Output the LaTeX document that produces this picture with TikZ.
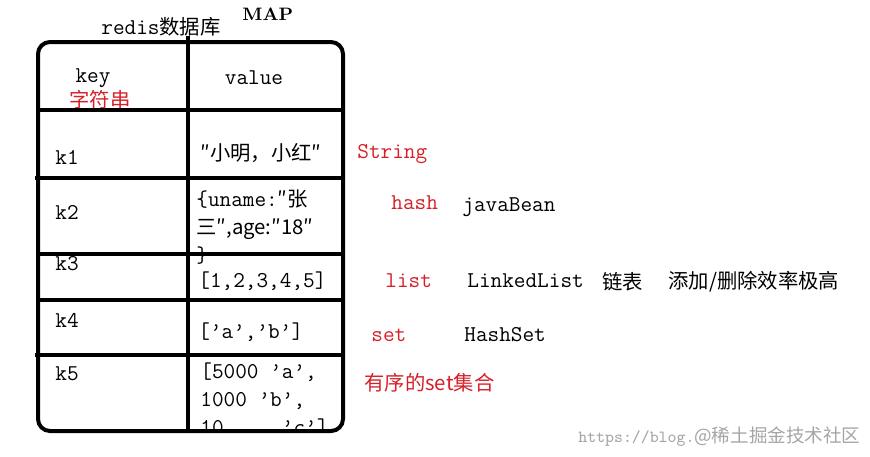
\documentclass[tikz,border=0pt]{standalone}
\usepackage{fontspec}
\newfontfamily\cjk[Scale=0.9]{Noto Sans CJK SC}
\usepackage{tikz}
\usetikzlibrary{positioning}
\usepackage{xcolor}
\definecolor{lblred}{RGB}{214,32,40}
\definecolor{wmgray}{RGB}{165,165,165}
\tikzset{
  txt/.style   ={inner sep=0pt, font=\fontsize{11.3}{14}\selectfont\ttfamily, text=black},
  redtxt/.style={txt, text=lblred},
  cell/.style  ={txt, anchor=west},
  note/.style  ={txt, anchor=west},
  rnote/.style ={redtxt, anchor=west},
  frame/.style ={line width=2pt, black},
  % watermark in the lower right corner
  wmark/.style ={inner sep=0pt, anchor=west, text=wmgray, font=\ttfamily},
}

\begin{document}
\begin{tikzpicture}[x=0.5pt, y=-0.5pt]
  \useasboundingbox (0,0) rectangle (870,456);
  % ---- titles above the table
  \node[txt, anchor=west] (maplbl) at (242,14) {\fontsize{9}{10}\selectfont\rmfamily\bfseries MAP};
  \node[txt] (dbname) at (161,27) {redis\cjk{数据库}};
  % ---- header row
  \node[txt]    (keyh)    at (93,78)  {key};
  \node[redtxt] (keytype) at (100,100) {\cjk{字符串}};
  \node[txt]    (valh)    at (254,78) {value};
  % ---- keys
  \node[cell] (k1) at (55,157) {k1};
  \node[cell] (k2) at (55,212) {k2};
  \node[cell] (k3) at (55,264) {k3};
  \node[cell] (k4) at (55,320) {k4};
  \node[cell] (k5) at (55,374) {k5};
  % ---- values
  \node[cell] (v1) at (200,153) {\cjk{″小明，小红″}};
  \node[txt, anchor=north west, align=left] (v2) at (196,189)
    {\{uname:\cjk{″张}\\\cjk{三″},age:\cjk{″}18\cjk{″}\\\}};
  \node[cell] (v3) at (198,281) {[1,2,3,4,5]};
  \node[cell] (v4) at (198,332) {[’a’,’b’]};
  \begin{scope}
    \clip (190,357) rectangle (341,429);
    \node[txt, anchor=north west, align=left] (v5) at (200,362)
      {[5000 ’a’,\\1000 ’b’,\\10\ \ \ \ \ ’c’]};
  \end{scope}
  % ---- table frame
  \draw[frame, rounded corners=6pt] (38,42) rectangle (343,431);
  \draw[frame] (188,36) -- (188,431);
  \draw[frame] (38,110) -- (343,110);
  \draw[frame] (35,178) -- (343,178);
  \draw[frame] (38,254) -- (343,254);
  \draw[frame] (38,300) -- (343,300);
  \draw[frame] (35,355) -- (345,355);
  % ---- types and notes on the right
  \node[rnote] (tstr)  at (357,154) {String};
  \node[rnote] (thash) at (391,203) {hash};
  \node[note]  (jbean) at (462,207) {javaBean};
  \node[rnote] (tlist) at (385,281) {list};
  \node[note]  (llist) at (467,281) {LinkedList};
  \node[note]  (lnk)   at (602,282) {\cjk{链表}};
  \node[note]  (fast)  at (668,282) {\cjk{添加}/\cjk{删除效率极高}};
  \node[rnote] (tset)  at (371,335) {set};
  \node[note]  (hset)  at (464,335) {HashSet};
  \node[rnote] (tzset) at (364,383) {\cjk{有序的}set\cjk{集合}};
  \node[wmark] (wm) at (578,437)
    {\fontsize{8.5}{9}\selectfont https://blog.\cjk{\fontsize{10.3}{10}\selectfont @稀土掘金技术社区}};
\end{tikzpicture}
\end{document}
